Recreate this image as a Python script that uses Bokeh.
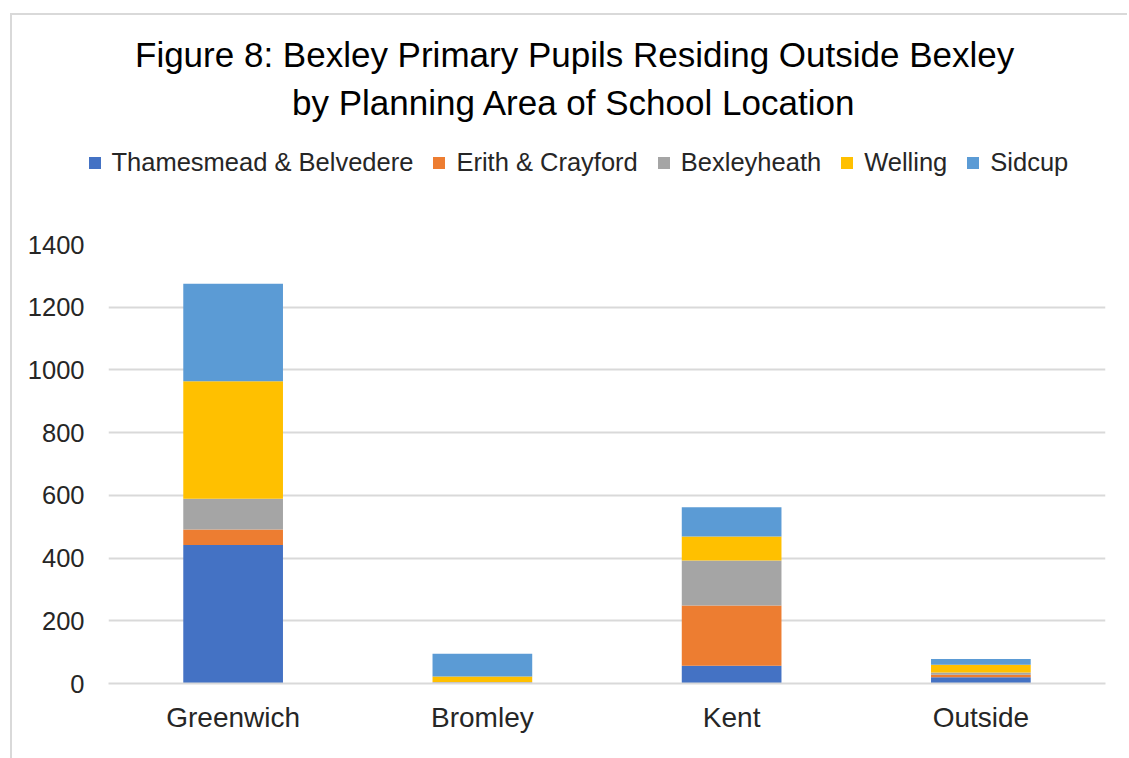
from bokeh.plotting import figure
from bokeh.models import ColumnDataSource, Legend, LegendItem, Title, FactorRange, Range1d, FixedTicker
from bokeh.embed import file_html
from bokeh.resources import INLINE

categories = ["Greenwich", "Bromley", "Kent", "Outside"]
series_names = ["Thamesmead & Belvedere", "Erith & Crayford", "Bexleyheath", "Welling", "Sidcup"]
thamesmead = [442, 1, 57, 20]
erith = [49, 1, 192, 8]
bexleyheath = [98, 3, 143, 7]
welling = [375, 17, 77, 25]
sidcup = [311, 73, 93, 18]
y_ticks = [0, 200, 400, 600, 800, 1000, 1200, 1400]
colors = ["#4472C4", "#ED7D31", "#A5A5A5", "#FFC000", "#5B9BD5"]

keys = ["thamesmead", "erith", "bexleyheath", "welling", "sidcup"]
src = ColumnDataSource(dict(cat=categories, thamesmead=thamesmead, erith=erith,
                            bexleyheath=bexleyheath, welling=welling, sidcup=sidcup))

FONT = "Liberation Sans"
TXT = "#262626"
W = 1117
BORDER = "2px solid #d9d9d9"

# ---- header figure: title + legend (swatch-only renderers, kept out of view) ----
head = figure(x_range=FactorRange(*categories), y_range=Range1d(5000, 6000),
              width=W, height=200, output_backend="svg", toolbar_location=None,
              x_axis_type=None, y_axis_type=None,
              min_border_left=0, min_border_right=0, min_border_top=106, min_border_bottom=0)
head.outline_line_color = None
head.xgrid.visible = False
head.ygrid.visible = False
hrs = head.vbar_stack(keys, x="cat", width=0, color=colors, line_color=None, source=src)

legend = Legend(items=[LegendItem(label=n, renderers=[r]) for n, r in zip(series_names, hrs)],
                orientation="horizontal", location=(74.5, 38),
                glyph_width=15, glyph_height=15, label_standoff=10, spacing=18,
                padding=0, margin=0, border_line_color=None, background_fill_alpha=0,
                label_text_font=FONT, label_text_font_size="25.5px", label_text_color=TXT)
head.add_layout(legend, "center")

t2 = Title(text="by Planning Area of School Location", align="left", offset=279.5,
           text_font=FONT, text_font_size="35px", text_font_style="normal",
           text_color="#000000", standoff=0)
t1 = Title(text="Figure 8: Bexley Primary Pupils Residing Outside Bexley", align="left", offset=122.5,
           text_font=FONT, text_font_size="35px", text_font_style="normal",
           text_color="#000000", standoff=13)
head.add_layout(t2, "above")
head.add_layout(t1, "above")
head.margin = (13, 0, 0, 10)
head.styles = {"border-left": BORDER, "border-top": BORDER}

# ---- chart figure ----
p = figure(x_range=FactorRange(*categories), y_range=Range1d(0, 1400),
           width=W, height=545, output_backend="svg", toolbar_location=None,
           min_border_left=96, min_border_right=24, min_border_top=31, min_border_bottom=75)

p.vbar_stack(keys, x="cat", width=0.4, color=colors, line_color=None, source=src)

p.outline_line_color = None
p.xgrid.visible = False
p.ygrid.grid_line_color = "#d9d9d9"
p.ygrid.grid_line_width = 2

p.yaxis.ticker = FixedTicker(ticks=y_ticks)
p.yaxis.axis_line_color = None
p.yaxis.major_tick_line_color = None
p.yaxis.minor_tick_line_color = None
p.yaxis.major_tick_in = 0
p.yaxis.major_tick_out = 0
p.yaxis.major_label_standoff = 24
p.yaxis.major_label_text_font = FONT
p.yaxis.major_label_text_font_size = "25.5px"
p.yaxis.major_label_text_color = TXT

p.xaxis.axis_line_color = "#d9d9d9"
p.xaxis.axis_line_width = 2
p.xaxis.major_tick_line_color = None
p.xaxis.major_tick_in = 0
p.xaxis.major_tick_out = 0
p.xaxis.major_label_standoff = 18
p.xaxis.major_label_text_font = FONT
p.xaxis.major_label_text_font_size = "28px"
p.xaxis.major_label_text_color = TXT
p.margin = (0, 0, 0, 10)
p.styles = {"border-left": BORDER}

open("out.html", "w").write(file_html([head, p], INLINE))
